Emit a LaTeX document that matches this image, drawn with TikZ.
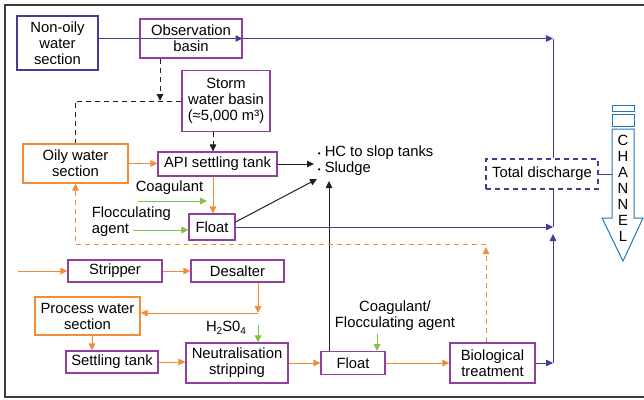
\documentclass[tikz,border=0pt]{standalone}
\usepackage{fontspec}
\setmainfont{Liberation Sans}
\usetikzlibrary{arrows.meta}
\definecolor{procpurple}{RGB}{146,64,160}
\definecolor{flowblue}{RGB}{64,62,150}
\definecolor{oilorange}{RGB}{245,140,55}
\definecolor{dosegreen}{RGB}{130,195,65}
\definecolor{chanblue}{RGB}{30,120,190}
\definecolor{inkblack}{RGB}{35,31,32}
\definecolor{framegray}{RGB}{60,60,60}
\newcommand{\lowidx}[1]{\raisebox{-0.4ex}{\fontsize{10}{10}\selectfont #1}}
\newcommand{\dotmark}{{\fontsize{8}{8}\selectfont\textbullet}}
\begin{document}
\begin{tikzpicture}[x=1pt,y=-1pt,
    font=\fontsize{14.8}{16}\selectfont, line width=1pt,
    tip/.style={-{Triangle[length=7pt,width=6.5pt]}},
    box/.style={draw, align=center, inner sep=0pt, line width=1.1pt},
    procbox/.style={box, draw=procpurple},
    oilbox/.style={box, draw=oilorange},
    watbox/.style={box, draw=flowblue},
    dischargebox/.style={box, draw=flowblue, dash pattern=on 5pt off 4pt},
    bline/.style={draw=flowblue},
    oline/.style={draw=oilorange},
    odash/.style={draw=oilorange, dash pattern=on 5pt off 4pt},
    kline/.style={draw=inkblack},
    kdash/.style={draw=inkblack, dash pattern=on 5pt off 4pt},
    gline/.style={draw=dosegreen}]
    \useasboundingbox (0,0) rectangle (644,399);
    %% frame
    \draw[framegray, line width=1.2pt] (5,5) rectangle (650,397);
    %% upper section
    \node[watbox, minimum width=81pt, minimum height=54pt] (nonoily) at (57.5,43) {Non-oily\\water\\section};
    \node[procbox, minimum width=102pt, minimum height=39pt] (obs) at (191,38.5) {Observation\\basin};
    \node[procbox, minimum width=88pt, minimum height=61pt] (storm) at (226,101) {Storm\\water basin\\(≈5,000 m³)};
    \node[oilbox, minimum width=105pt, minimum height=39pt] (oily) at (75.5,163.5) {Oily water\\section};
    \node[procbox, minimum width=119pt, minimum height=24pt] (api) at (217.5,164) {API settling tank};
    \node[procbox, minimum width=46pt, minimum height=26pt] (float1) at (212,227) {Float};
    \node[anchor=west, align=left] (hc) at (314,161) {\dotmark\ HC to slop tanks\\\dotmark\ Sludge};
    \node (coag) at (169.5,188) {Coagulant};
    \node[anchor=west, align=left] (floc) at (88,222) {Flocculating\\agent};
    \node[dischargebox, minimum width=112pt, minimum height=30pt] (tot) at (542,174) {Total discharge};
    %% lower section
    \node[procbox, minimum width=94pt, minimum height=22pt] (stripper) at (115,271) {Stripper};
    \node[procbox, minimum width=93pt, minimum height=22pt] (desalter) at (237.5,271) {Desalter};
    \node[oilbox, minimum width=105pt, minimum height=38pt] (pws) at (87.5,316) {Process water\\section};
    \node[procbox, minimum width=92pt, minimum height=22pt] (settling) at (112,362) {Settling tank};
    \node[procbox, minimum width=102pt, minimum height=40pt] (neut) at (237,363) {Neutralisation\\stripping};
    \node (h2so4) at (226,328) {H\lowidx{2}S0\lowidx{4}};
    \node[procbox, minimum width=64pt, minimum height=23pt] (float2) at (353,363) {Float};
    \node[align=center] (coagfloc) at (395,316) {Coagulant/\\Flocculating agent};
    \node[procbox, minimum width=85pt, minimum height=40pt] (bio) at (492.5,363) {Biological\\treatment};
    %% channel
    \draw[chanblue, fill=white] (612,105) rectangle (634,111);
    \draw[chanblue, fill=white] (612,114) rectangle (634,126);
    \draw[chanblue, fill=white] (612,129) -- (612,218) -- (602,218) -- (623,261)
        -- (643,218) -- (634,218) -- (634,129) -- cycle;
    \foreach \l [count=\i from 0] in {C,H,A,N,N,E,L}
        \node (ch\i) at (623,{140+16*\i}) {\l};
    %% junction points
    \coordinate (bus) at (553,0);
    \coordinate (busup) at (553,234);
    \coordinate (chin) at (612,174);
    \coordinate (dj) at (160,101);
    \coordinate (ax) at (213,0);
    \coordinate (hcfl) at (317,179);
    \coordinate (sl) at (329,181);
    \coordinate (cg) at (138,201);
    \coordinate (cgend) at (207,201);
    \coordinate (fl) at (133,230);
    \coordinate (ret) at (486,244);
    \coordinate (rettip) at (486,247);
    \coordinate (inl) at (18,271);
    \coordinate (dc) at (258,313);
    \coordinate (px) at (92,0);
    \coordinate (hs) at (258,325);
    \coordinate (cf) at (377,334);
    %% blue flows
    \draw[bline, tip] (nonoily.east |- obs.east) -- (obs.east);
    \draw[bline, tip] (obs.east) -- (obs.east -| bus);
    \draw[bline] (obs.east -| bus) -- (tot.north -| bus);
    \draw[bline, tip] (float1.east) -- (float1.east -| bus);
    \draw[bline] (float1.east -| bus) -- (tot.south -| bus);
    \draw[bline, tip] (bio.east) -- (bio.east -| bus);
    \draw[bline, tip] (bio.east -| bus) -- (busup);
    \draw[bline] (tot.east) -- (chin);
    %% black flows
    \draw[kdash] (storm.west) -| (oily.north);
    \draw[kdash, tip] (obs.south -| dj) -- (dj);
    \draw[kdash, tip] (storm.south -| ax) -- (api.north -| ax);
    \draw[kline, tip] (api.east) -- (api.east -| hc.west);
    \draw[kline, tip] (float1.12) -- (hcfl);
    \draw[kline, tip] (float2.north -| sl) -- (sl);
    %% orange flows
    \draw[oline, tip] (oily.east) -- (oily.east -| api.west);
    \draw[oline, tip] (api.south -| ax) -- (float1.north -| ax);
    \draw[odash, tip] (bio.north -| ret) -- (rettip);
    \draw[odash, tip] (ret) -| (oily.south);
    \draw[oline, tip] (inl) -- (stripper.west);
    \draw[oline, tip] (stripper) -- (desalter);
    \draw[oline, tip] (desalter.south -| dc) -- (dc);
    \draw[oline, tip] (dc) -- (dc -| pws.east);
    \draw[oline, tip] (pws.south -| px) -- (settling.north -| px);
    \draw[oline, tip] (settling.east) -- (settling.east -| neut.west);
    \draw[oline, tip] (neut.east) -- (neut.east -| float2.west);
    \draw[oline, tip] (float2.east) -- (float2.east -| bio.west);
    %% dosing
    \draw[gline, tip] (cg) -- (cgend);
    \draw[gline, tip] (fl) -- (fl -| float1.west);
    \draw[gline, tip] (hs) -- (hs |- neut.north);
    \draw[gline, tip] (cf) -- (cf |- float2.north);
\end{tikzpicture}
\end{document}
